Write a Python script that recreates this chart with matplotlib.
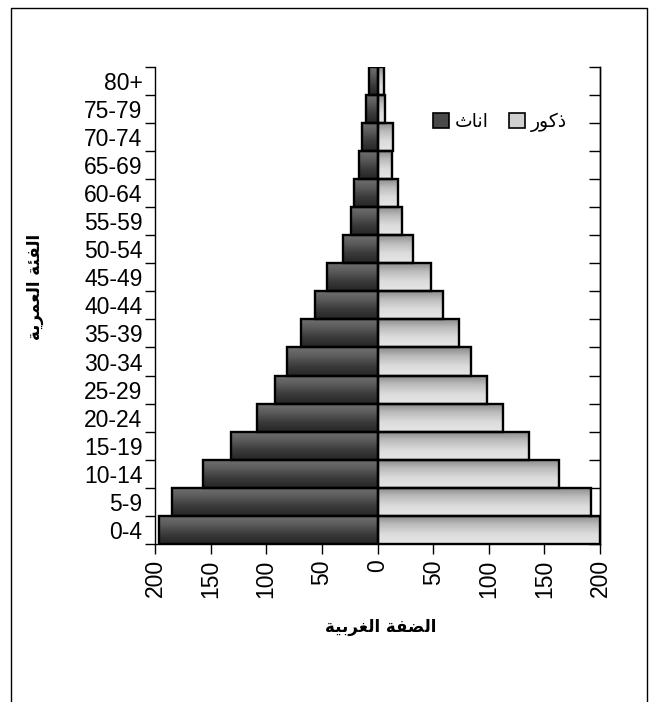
import numpy as np
import matplotlib
matplotlib.use("Agg")
import matplotlib.pyplot as plt
from matplotlib.colors import LinearSegmentedColormap
from matplotlib.patches import Patch
from matplotlib.lines import Line2D

# ---------------- data ----------------
age_groups = ["0-4", "5-9", "10-14", "15-19", "20-24", "25-29", "30-34", "35-39",
              "40-44", "45-49", "50-54", "55-59", "60-64", "65-69", "70-74", "75-79", "80+"]
females = [196, 185, 157, 132, 108, 92, 81, 69, 56, 45, 31, 24, 21, 17, 14, 10, 8]
males = [200, 192, 163, 136, 113, 98, 84, 73, 59, 48, 32, 22, 18, 13, 14, 7, 6]
x_ticks = [-200, -150, -100, -50, 0, 50, 100, 150, 200]
label_female = "اناث"
label_male = "ذكور"
x_title = "الضفة الغربية"
y_title = "الفئة العمرية"

# ------------- minimal Arabic shaping (matplotlib has no bidi/shaping) -------------
_FORMS = {
    'ا': (0xFE8D, 0xFE8E, None, None), 'ة': (0xFE93, 0xFE94, None, None),
    'ر': (0xFEAD, 0xFEAE, None, None), 'ذ': (0xFEAB, 0xFEAC, None, None),
    'و': (0xFEED, 0xFEEE, None, None),
    'ل': (0xFEDD, 0xFEDE, 0xFEDF, 0xFEE0), 'ض': (0xFEBD, 0xFEBE, 0xFEBF, 0xFEC0),
    'ف': (0xFED1, 0xFED2, 0xFED3, 0xFED4), 'غ': (0xFECD, 0xFECE, 0xFECF, 0xFED0),
    'ب': (0xFE8F, 0xFE90, 0xFE91, 0xFE92), 'ي': (0xFEF1, 0xFEF2, 0xFEF3, 0xFEF4),
    'ع': (0xFEC9, 0xFECA, 0xFECB, 0xFECC), 'م': (0xFEE1, 0xFEE2, 0xFEE3, 0xFEE4),
    'ئ': (0xFE89, 0xFE8A, 0xFE8B, 0xFE8C), 'ك': (0xFED9, 0xFEDA, 0xFEDB, 0xFEDC),
    'ن': (0xFEE5, 0xFEE6, 0xFEE7, 0xFEE8), 'ث': (0xFE99, 0xFE9A, 0xFE9B, 0xFE9C),
}


def shape_ar(text):
    out = []
    n = len(text)
    for i, ch in enumerate(text):
        f = _FORMS.get(ch)
        if f is None:
            out.append(ch)
            continue
        prev = text[i - 1] if i > 0 else None
        nxt = text[i + 1] if i < n - 1 else None
        jp = prev in _FORMS and _FORMS[prev][2] is not None
        jn = nxt in _FORMS and f[2] is not None
        if jp and jn:
            cp = f[3]
        elif jp:
            cp = f[1]
        elif jn:
            cp = f[2]
        else:
            cp = f[0]
        out.append(chr(cp))
    return "".join(out)[::-1]


# ---------------- figure ----------------
W, H = 650, 702
fig = plt.figure(figsize=(W / 100, H / 100), dpi=100)
fig.patch.set_facecolor("white")

ax_l, ax_r, ax_t, ax_b = 155, 600, 66.7, 544
ax = fig.add_axes([ax_l / W, 1 - ax_b / H, (ax_r - ax_l) / W, (ax_b - ax_t) / H])

y = np.arange(len(age_groups))
fem_vals = -np.array(females, dtype=float)
mal_vals = np.array(males, dtype=float)

bars_f = ax.barh(y, fem_vals, height=1.0, facecolor="none", edgecolor="black",
                 linewidth=1.7, zorder=3)
bars_m = ax.barh(y, mal_vals, height=1.0, facecolor="none", edgecolor="black",
                 linewidth=1.7, zorder=3)

cm_f = LinearSegmentedColormap.from_list("f", ["#727272", "#5a5a5a", "#3a3a3a", "#262626"])
cm_m = LinearSegmentedColormap.from_list("m", ["#8a8a8a", "#bdbdbd", "#dcdcdc", "#e6e6e6"])
grad = np.linspace(0, 1, 64).reshape(-1, 1)

for bars, cm in ((bars_f, cm_f), (bars_m, cm_m)):
    for p in bars.patches:
        x0, y0 = p.get_x(), p.get_y()
        x1, y1 = x0 + p.get_width(), y0 + p.get_height()
        im = ax.imshow(grad, cmap=cm, aspect="auto", origin="upper",
                       extent=(min(x0, x1), max(x0, x1), y0, y1),
                       interpolation="bilinear", zorder=2)
        im.set_clip_path(p)

ax.set_xlim(-200, 200)
ax.set_ylim(-0.5, len(age_groups) - 0.5)

# axes appearance
ax.spines["top"].set_visible(False)
for s in ("left", "right", "bottom"):
    ax.spines[s].set_linewidth(1.0)
    ax.spines[s].set_color("black")

num_font = dict(family="Liberation Sans", size=16.5)

ax.set_xticks(x_ticks)
ax.set_xticklabels([str(abs(v)) for v in x_ticks], rotation=90, **num_font)
ax.tick_params(axis="x", direction="out", length=7, width=1, pad=4)

ax.set_yticks(y)
ax.set_yticklabels(age_groups, **num_font)
ax.set_yticks(np.arange(-0.5, len(age_groups)), minor=True)
ax.tick_params(axis="y", which="major", length=0, pad=9)
ax.tick_params(axis="y", which="minor", direction="out", length=7, width=1,
               left=True, right=False)

# right side: inward ticks at category boundaries
ax2 = ax.twinx()
ax2.set_ylim(ax.get_ylim())
ax2.set_yticks(np.arange(-0.5, len(age_groups)))
ax2.set_yticklabels([])
ax2.tick_params(axis="y", direction="in", length=8, width=1)
for s in ("top", "left", "bottom"):
    ax2.spines[s].set_visible(False)
ax2.spines["right"].set_linewidth(1.0)

# legend
handles = [Patch(facecolor="#4a4a4a", edgecolor="black", linewidth=1.2),
           Patch(facecolor="#cfcfcf", edgecolor="black", linewidth=1.2)]
leg = ax.legend(handles, [shape_ar(label_female), shape_ar(label_male)], ncol=2,
                loc="center left", bbox_to_anchor=(433 / W, 1 - 122 / H),
                bbox_transform=fig.transFigure, frameon=False, borderpad=0,
                borderaxespad=0, handlelength=0.85, handleheight=0.85,
                handletextpad=0.3, columnspacing=1.1,
                prop=dict(family=["DejaVu Sans"], size=13.5))

# axis titles
fig.text(381 / W, 1 - 627 / H, shape_ar(x_title), ha="center", va="center",
         family=["DejaVu Sans"], fontweight="bold", fontsize=12)
fig.text(35 / W, 1 - 287 / H, shape_ar(y_title), ha="center", va="center",
         rotation=90, family=["DejaVu Sans"], fontweight="bold", fontsize=12)

# outer frame (open at the bottom)
fx = np.array([11, 11, 647, 647]) / W
fy = 1 - np.array([H + 5, 8, 8, H + 5]) / H
fig.add_artist(Line2D(fx, fy, transform=fig.transFigure, color="black", linewidth=1.0))

fig.savefig("out.png", dpi=100, facecolor="white")
